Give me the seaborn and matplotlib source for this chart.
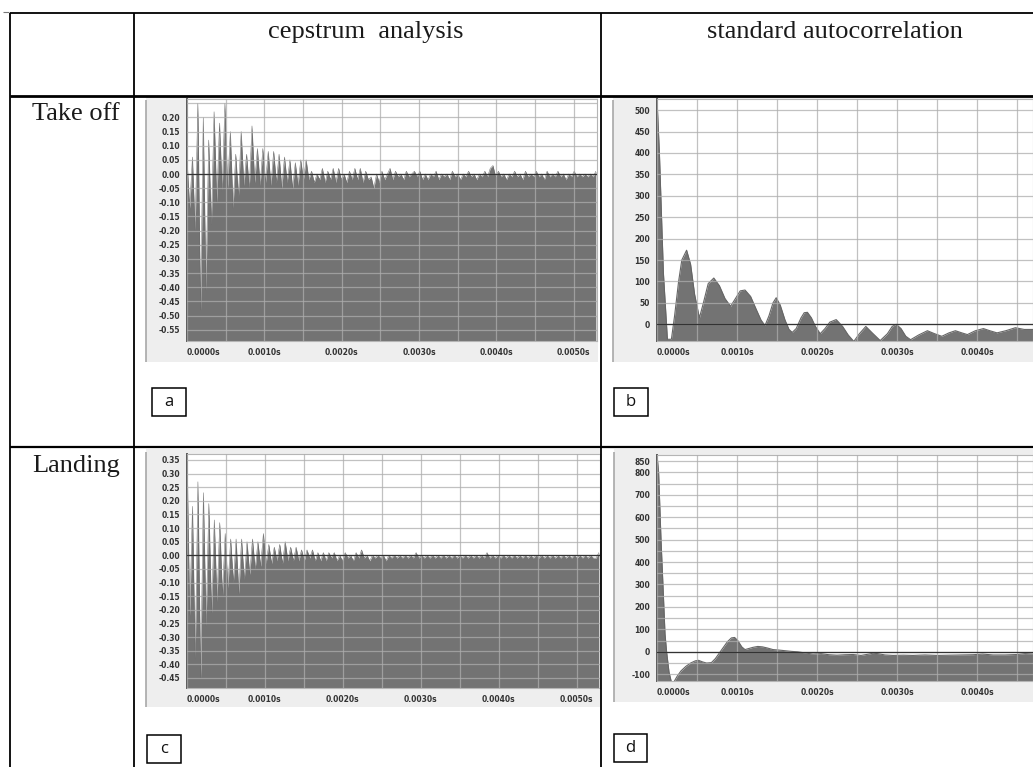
import numpy as np
import matplotlib
matplotlib.use("Agg")
import matplotlib.pyplot as plt
import seaborn as sns
from matplotlib.lines import Line2D
from matplotlib.patches import Rectangle

# ---------------- data ----------------
col_headers = ["cepstrum  analysis", "standard autocorrelation"]
row_headers = ["Take off", "Landing"]
panel_tags = ["a", "b", "c", "d"]

cep_dt = 0.000035  # quefrency step (s)
cep_takeoff = [
    0.05, -0.12, 0.06, -0.20, 0.25, -0.48, 0.20, -0.41, 0.12, -0.18,
    0.22, -0.10, 0.18, -0.06, 0.25, -0.05, 0.15, -0.12, 0.07, -0.08,
    0.15, -0.04, 0.07, -0.05, 0.17, -0.03, 0.09, -0.04, 0.09, -0.03,
    0.08, -0.04, 0.08, -0.03, 0.07, -0.05, 0.06, -0.03, 0.05, -0.05,
    0.04, -0.04, 0.05, -0.02, 0.05, -0.02, 0.01, -0.03, 0.00, -0.02,
    0.02, -0.03, 0.01, -0.02, 0.02, -0.03, 0.02, -0.02, 0.00, -0.03,
    0.01, -0.02, 0.02, -0.02, 0.02, -0.03, 0.01, -0.02, -0.01, -0.05,
    0.00, -0.03, 0.01, -0.02, 0.00, 0.02, -0.02, 0.01, -0.01, 0.00,
    -0.02, 0.01, -0.01, 0.00, 0.01, -0.01, 0.01, -0.02, 0.00, -0.02,
    0.00, -0.01, 0.01, -0.02, 0.00, -0.01, 0.00, -0.02, 0.01, -0.01,
    0.00, -0.02, 0.00, -0.01, 0.01, -0.01, 0.00, -0.02, 0.00, -0.01,
    0.01, -0.01, 0.02, 0.03, -0.01, 0.01, -0.01, 0.00, -0.02, 0.00,
    -0.01, 0.01, -0.01, 0.00, -0.02, 0.01, -0.01, 0.00, -0.01, 0.01,
    -0.01, 0.00, -0.02, 0.01, -0.01, 0.00, -0.01, 0.01, -0.01, 0.00,
    -0.02, 0.00, -0.01, 0.01, -0.01, 0.00, -0.01, 0.00, -0.01, 0.00,
    -0.01, 0.01,
]
cep_landing = [
    0.37, -0.22, 0.18, -0.38, 0.27, -0.45, 0.23, -0.26, 0.19, -0.21,
    0.13, -0.17, 0.12, -0.15, 0.08, -0.12, 0.06, -0.10, 0.06, -0.14,
    0.06, -0.09, 0.05, -0.07, 0.06, -0.05, 0.05, -0.04, 0.08, -0.03,
    0.04, -0.03, 0.03, -0.02, 0.04, -0.03, 0.05, -0.02, 0.03, -0.02,
    0.03, -0.02, 0.02, -0.02, 0.02, -0.01, 0.02, -0.02, 0.01, -0.02,
    0.01, -0.02, 0.01, -0.01, 0.01, -0.02, 0.00, -0.02, 0.01, -0.01,
    0.00, -0.02, 0.01, -0.01, 0.02, -0.01, 0.00, -0.02, 0.00, -0.01,
    0.00, -0.01, 0.00, -0.02, 0.00, -0.01, 0.00, -0.01, 0.00, -0.01,
    0.00, -0.01, 0.00, -0.01, 0.01, -0.01, 0.00, -0.01, 0.00, -0.01,
    0.00, -0.01, 0.00, -0.01, 0.00, -0.01, 0.00, -0.01, 0.00, -0.01,
    0.00, -0.01, 0.00, -0.01, 0.00, -0.01, 0.00, -0.01, 0.00, -0.01,
    0.01, -0.01, 0.00, -0.01, 0.00, -0.01, 0.00, -0.01, 0.00, -0.01,
    0.00, -0.01, 0.00, -0.01, 0.00, -0.01, 0.00, -0.01, 0.00, -0.01,
    0.00, -0.01, 0.00, -0.01, 0.00, -0.01, 0.00, -0.01, 0.00, -0.01,
    0.00, -0.01, 0.00, -0.01, 0.00, -0.01, 0.00, -0.01, 0.00, -0.01,
    -0.01, 0.01,
]

ac_takeoff_t = [
    0.0, 0.00003, 0.00008, 0.00013, 0.00018, 0.00022, 0.00027, 0.00031, 0.00037, 0.00042,
    0.00047, 0.00053, 0.00058, 0.00064, 0.00071, 0.00078, 0.00085, 0.00092, 0.00098, 0.00104,
    0.0011, 0.00117, 0.00124, 0.0013, 0.00135, 0.0014, 0.00145, 0.00149, 0.00154, 0.0016,
    0.00165, 0.00169, 0.00174, 0.0018, 0.00184, 0.00188, 0.00193, 0.00198, 0.00204, 0.0021,
    0.00216, 0.00224, 0.00232, 0.00239, 0.00246, 0.00253, 0.00261, 0.00269, 0.00279, 0.00288,
    0.00294, 0.00299, 0.00305, 0.00311, 0.00317, 0.00327, 0.00338, 0.00347, 0.00356, 0.00365,
    0.00373, 0.00381, 0.00388, 0.00398, 0.00408, 0.00416, 0.00425, 0.00436, 0.00448, 0.00459,
    0.0047,
]
ac_takeoff_v = [
    525, 400, 120, -35, -35, 20, 100, 150, 173, 140,
    70, 15, 50, 95, 108, 90, 60, 42, 60, 78,
    80, 65, 35, 10, -3, 20, 50, 62, 45, 10,
    -12, -19, -10, 15, 27, 28, 15, -5, -22, -10,
    5, 11, -5, -25, -40, -22, -5, -20, -38, -22,
    -5, 0, -10, -28, -36, -25, -15, -22, -28, -20,
    -15, -20, -24, -15, -10, -15, -20, -15, -8, -12,
    -12,
]
ac_landing_t = [
    0.0, 0.00002, 0.00005, 0.00008, 0.0001, 0.00012, 0.00015, 0.00018, 0.00021, 0.00025,
    0.0003, 0.00036, 0.00042, 0.00048, 0.00052, 0.00057, 0.00062, 0.00068, 0.00073, 0.00078,
    0.00083, 0.00088, 0.00093, 0.00097, 0.00101, 0.00106, 0.0011, 0.00115, 0.0012, 0.00126,
    0.00132, 0.00138, 0.00145, 0.00152, 0.0016, 0.00168, 0.00176, 0.00185, 0.00195, 0.00205,
    0.00215, 0.00225, 0.00235, 0.00245, 0.00255, 0.00265, 0.0027, 0.00276, 0.00285, 0.00295,
    0.00308, 0.0032, 0.00335, 0.0035, 0.00365, 0.0038, 0.00395, 0.00407, 0.0042, 0.00435,
    0.0045, 0.0046, 0.0047,
]
ac_landing_v = [
    877, 800, 500, 250, 80, 0, -90, -135, -135, -110,
    -85, -65, -50, -40, -38, -45, -50, -48, -30, -5,
    20, 45, 62, 64, 50, 22, 10, 15, 20, 24,
    22, 17, 10, 8, 5, 2, 0, -5, -10, -8,
    -13, -15, -13, -12, -16, -10, -6, -8, -14, -16,
    -15, -16, -14, -16, -15, -14, -13, -10, -14, -14,
    -12, -8, -10,
]

x_major = [0.0, 0.001, 0.002, 0.003, 0.004, 0.005]
x_labels = ["0.0000s", "0.0010s", "0.0020s", "0.0030s", "0.0040s", "0.0050s"]
x_minor = [0.0005, 0.0015, 0.0025, 0.0035, 0.0045]

a_yticks = [0.20, 0.15, 0.10, 0.05, 0.00, -0.05, -0.10, -0.15, -0.20, -0.25,
            -0.30, -0.35, -0.40, -0.45, -0.50, -0.55]
a_ygrid = [0.25]
c_yticks = [0.35, 0.30, 0.25, 0.20, 0.15, 0.10, 0.05, 0.00, -0.05, -0.10,
            -0.15, -0.20, -0.25, -0.30, -0.35, -0.40, -0.45]
b_yticks = [500, 450, 400, 350, 300, 250, 200, 150, 100, 50, 0]
d_yticks = [850, 800, 700, 600, 500, 400, 300, 200, 100, 0, -100]
d_ygrid = [750, 650, 550, 450, 350, 250, 150, 50, -50]

# ---------------- figure ----------------
W, H = 1033, 767
sns.set_theme(style="white")
plt.rcParams["font.family"] = ["DejaVu Sans"]
fig = plt.figure(figsize=(W / 100, H / 100), dpi=100)
fig.patch.set_facecolor("white")


def frect(x0, y0, x1, y1):
    return [x0 / W, 1 - y1 / H, (x1 - x0) / W, (y1 - y0) / H]


def fline(x0, y0, x1, y1, lw=1.3, color="black"):
    fig.add_artist(Line2D([x0 / W, x1 / W], [1 - y0 / H, 1 - y1 / H],
                          transform=fig.transFigure, color=color, lw=lw,
                          solid_capstyle="butt"))


def fbox(x0, y0, x1, y1, fc, ec="none", lw=0.0, z=0):
    r = frect(x0, y0, x1, y1)
    fig.add_artist(Rectangle((r[0], r[1]), r[2], r[3], transform=fig.transFigure,
                             facecolor=fc, edgecolor=ec, lw=lw, zorder=z))


# screenshot backgrounds of the charts
for (x0, y0, x1, y1) in [(146, 97, 598, 362), (613, 97, 1033, 362),
                         (146, 449, 600, 707), (614, 449, 1033, 702)]:
    fbox(x0, y0, x1, y1, "#eeeeee")
    fline(x0, y0 + 3, x0, y1, lw=1.2, color="#a8a8a8")

FILL = "#737373"
GRID = "#adadad"


def style_axes(ax, xmax, ylo, yhi, yticks, ygrid, ylabels):
    ax.set_facecolor("white")
    keep = [i for i, t in enumerate(x_major) if t <= xmax]
    ax.set_xticks([x_major[i] for i in keep])
    ax.set_xticklabels([x_labels[i] for i in keep])
    ax.set_xticks([t for t in x_minor if t <= xmax], minor=True)
    ax.set_yticks(yticks)
    ax.set_yticklabels(ylabels)
    ax.set_yticks(ygrid, minor=True)
    ax.set_xlim(0, xmax)
    ax.set_ylim(ylo, yhi)
    ax.set_xlabel("")
    ax.set_ylabel("")
    ax.set_axisbelow(False)
    ax.grid(True, which="both", color=GRID, lw=0.9, alpha=0.75)
    ax.tick_params(axis="both", which="both", labelsize=5.5, length=2.5, width=0.6,
                   color="#555555", labelcolor="#333333", pad=2.5, direction="out")
    ax.tick_params(axis="y", which="minor", length=0)
    for lab in ax.get_xticklabels():
        lab.set_fontweight("bold")
    for lab in ax.get_yticklabels():
        lab.set_fontweight("bold")
    ax.get_xticklabels()[0].set_horizontalalignment("left")
    for s in ax.spines.values():
        s.set_color("#b5b5b5")
        s.set_linewidth(0.8)
        s.set_visible(True)
    ax.spines["left"].set_color("#5a5a5a")
    ax.spines["left"].set_linewidth(1.4)
    ax.axhline(0, color="#333333", lw=0.9, zorder=3)


# ---- cepstrum panels ----
cep_specs = [
    (frect(187, 99, 597, 341), cep_takeoff, 0.0053, -0.59, 0.265, a_yticks, a_ygrid),
    (frect(187, 454, 600, 688), cep_landing, 0.0053, -0.487, 0.372, c_yticks, []),
]
for rect, vals, xmax, ylo, yhi, yt, yg in cep_specs:
    ax = fig.add_axes(rect)
    q = np.arange(len(vals)) * cep_dt
    v = np.array(vals)
    ax.fill_between(q, ylo, v, color=FILL, lw=0, zorder=1)
    sns.lineplot(x=q, y=v, ax=ax, color="#6a6a6a", lw=0.35, legend=False, zorder=1.5)
    style_axes(ax, xmax, ylo, yhi, yt, yg, [f"{t:.2f}" for t in yt])

# ---- autocorrelation panels ----
ac_specs = [
    (frect(657, 99, 1033, 341), ac_takeoff_t, ac_takeoff_v, 0.0047, -39, 526, b_yticks, []),
    (frect(657, 455, 1033, 681), ac_landing_t, ac_landing_v, 0.0047, -130, 877, d_yticks, d_ygrid),
]
for rect, t, vals, xmax, ylo, yhi, yt, yg in ac_specs:
    ax = fig.add_axes(rect)
    t = np.array(t)
    v = np.array(vals)
    ax.fill_between(t, ylo, v, color=FILL, lw=0, zorder=1)
    sns.lineplot(x=t, y=v, ax=ax, color="#666666", lw=0.8, legend=False, zorder=1.5)
    style_axes(ax, xmax, ylo, yhi, yt, yg, [str(k) for k in yt])

# ---------------- table ----------------
fline(3, 12, 9, 12, lw=0.8, color="#777777")
fline(10, 13, 1033, 13, lw=1.3)
fline(10, 96, 1033, 96, lw=2.0)
fline(10, 447, 1033, 447, lw=1.6)
fline(10, 13, 10, 767, lw=1.3)
fline(134, 13, 134, 767, lw=1.3)
fline(601, 13, 601, 767, lw=1.3)

serif = ["Liberation Serif", "DejaVu Serif"]
fig.text(366 / W, 1 - 38 / H, col_headers[0], ha="center", va="baseline",
         family=serif, fontsize=19, color="#1a1a1a")
fig.text(835 / W, 1 - 38 / H, col_headers[1], ha="center", va="baseline",
         family=serif, fontsize=19, color="#1a1a1a")
fig.text(32 / W, 1 - 120 / H, row_headers[0], ha="left", va="baseline",
         family=serif, fontsize=19, color="#1a1a1a")
fig.text(32 / W, 1 - 472 / H, row_headers[1], ha="left", va="baseline",
         family=serif, fontsize=19, color="#1a1a1a")

for tag, (x0, y0, x1, y1) in zip(panel_tags, [(152, 388, 186, 416), (614, 388, 648, 416),
                                              (147, 735, 181, 763), (614, 734, 647, 762)]):
    fbox(x0, y0, x1, y1, "white", ec="black", lw=1.1, z=5)
    fig.text((x0 + x1) / 2 / W, 1 - (y0 + y1) / 2 / H, tag, ha="center", va="center",
             family=["Open Sans", "DejaVu Sans"], fontsize=12, color="#111111", zorder=6)

fig.savefig("out.png", dpi=100, facecolor="white")
